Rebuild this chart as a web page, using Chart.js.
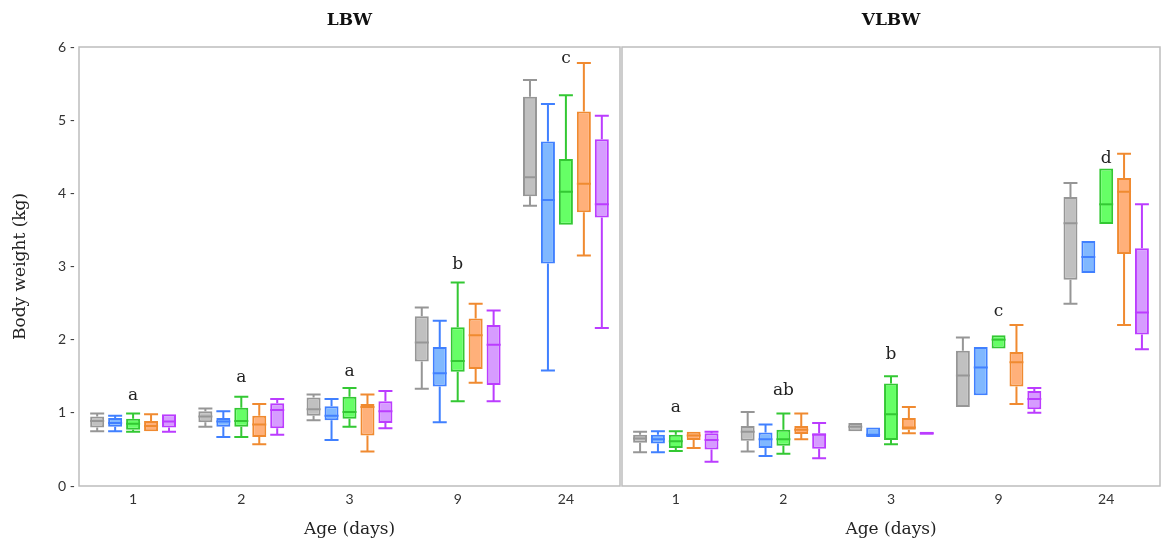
<!DOCTYPE html>
<html>
<head>
<meta charset="utf-8">
<script src="https://cdn.jsdelivr.net/npm/chart.js@4/dist/chart.umd.min.js"></script>
<style>
  html, body { margin: 0; padding: 0; background: #fff; }
  #wrap { position: relative; width: 1162px; height: 544px; }
  .panel { position: absolute; top: 0; height: 544px; }
</style>
</head>
<body>
<div id="wrap">
  <div class="panel" style="left:0;width:621px"><canvas id="lbwChart"></canvas></div>
  <div class="panel" style="left:621px;width:541px"><canvas id="vlbwChart"></canvas></div>
</div>
<script>
// Age categories (days)
const ages = ["1", "2", "3", "9", "24"];
const groupNames = ["Group 1", "Group 2", "Group 3", "Group 4", "Group 5"];

// Each entry: [lower whisker, Q1, median, Q3, upper whisker] per age
const lbwGrey   = [[0.75, 0.80, 0.89, 0.95, 0.99], [0.81, 0.87, 0.95, 1.02, 1.06], [0.90, 0.96, 1.05, 1.21, 1.25], [1.33, 1.70, 1.96, 2.32, 2.44], [3.83, 3.96, 4.22, 5.32, 5.55]];
const lbwBlue   = [[0.75, 0.81, 0.86, 0.93, 0.96], [0.67, 0.81, 0.88, 0.93, 1.02], [0.63, 0.90, 0.96, 1.09, 1.19], [0.87, 1.36, 1.54, 1.90, 2.26], [1.58, 3.04, 3.91, 4.71, 5.22]];
const lbwGreen  = [[0.74, 0.77, 0.85, 0.92, 0.99], [0.67, 0.81, 0.89, 1.07, 1.22], [0.81, 0.92, 1.01, 1.22, 1.34], [1.16, 1.56, 1.71, 2.17, 2.78], [3.57, 3.57, 4.02, 4.47, 5.34]];
const lbwOrange = [[0.75, 0.75, 0.82, 0.89, 0.98], [0.57, 0.67, 0.84, 0.96, 1.12], [0.47, 0.69, 1.08, 1.12, 1.25], [1.41, 1.60, 2.06, 2.29, 2.49], [3.15, 3.74, 4.13, 5.12, 5.78]];
const lbwPurple = [[0.74, 0.80, 0.88, 0.98, 0.98], [0.70, 0.79, 1.04, 1.13, 1.19], [0.79, 0.86, 1.02, 1.16, 1.30], [1.16, 1.38, 1.93, 2.20, 2.40], [2.16, 3.67, 3.85, 4.74, 5.06]];

const vlbwGrey   = [[0.46, 0.59, 0.65, 0.70, 0.74], [0.47, 0.62, 0.74, 0.82, 1.01], [0.75, 0.75, 0.81, 0.86, 0.86], [1.08, 1.08, 1.51, 1.85, 2.03], [2.49, 2.82, 3.59, 3.95, 4.14]];
const vlbwBlue   = [[0.46, 0.58, 0.64, 0.70, 0.75], [0.41, 0.52, 0.64, 0.73, 0.84], [0.67, 0.67, 0.70, 0.80, 0.80], [1.24, 1.24, 1.62, 1.90, 1.90], [2.91, 2.91, 3.13, 3.35, 3.35]];
const vlbwGreen  = [[0.48, 0.52, 0.61, 0.70, 0.75], [0.44, 0.55, 0.64, 0.77, 0.99], [0.57, 0.63, 0.98, 1.40, 1.50], [1.88, 1.88, 2.00, 2.06, 2.06], [3.58, 3.58, 3.85, 4.34, 4.34]];
const vlbwOrange = [[0.52, 0.63, 0.69, 0.74, 0.74], [0.64, 0.71, 0.77, 0.82, 0.99], [0.72, 0.77, 0.80, 0.93, 1.08], [1.12, 1.36, 1.69, 1.83, 2.20], [2.20, 3.17, 4.02, 4.21, 4.54]];
const vlbwPurple = [[0.33, 0.50, 0.63, 0.72, 0.74], [0.38, 0.51, 0.70, 0.72, 0.86], [0.70, 0.70, 0.72, 0.74, 0.74], [1.00, 1.05, 1.19, 1.30, 1.34], [1.87, 2.07, 2.37, 3.25, 3.85]];

// Significance letters and the height (kg) where they sit
const lbwLetters = ["a", "a", "a", "b", "c"];
const lbwLetterY = [1.24, 1.48, 1.57, 3.02, 5.84];
const vlbwLetters = ["a", "ab", "b", "c", "d"];
const vlbwLetterY = [1.07, 1.31, 1.79, 2.39, 4.47];

// Colours (fill / line)
const fills = ["#c0c0c0", "#80b8ff", "#66ff66", "#ffb07a", "#d69cff"];
const lines = ["#969696", "#4080ff", "#33c833", "#f08a30", "#bb3cff"];

const SERIF = "'DejaVu Serif', 'Liberation Serif', serif";
const SANS = "Lato, 'Liberation Sans', sans-serif";

// Whiskers, medians, frame and letters
const boxPlugin = {
  id: "boxExtras",
  afterDatasetsDraw(chart) {
    const ctx = chart.ctx;
    const y = chart.scales.y;
    const stats = chart.options.plugins.boxExtras.stats;
    ctx.save();
    chart.data.datasets.forEach((ds, i) => {
      const meta = chart.getDatasetMeta(i);
      meta.data.forEach((el, j) => {
        const s = stats[i][j];
        const half = el.width / 2;
        const yMin = y.getPixelForValue(s[0]);
        const yQ1 = y.getPixelForValue(s[1]);
        const yMed = y.getPixelForValue(s[2]);
        const yQ3 = y.getPixelForValue(s[3]);
        const yMax = y.getPixelForValue(s[4]);
        ctx.strokeStyle = lines[i];
        ctx.lineWidth = 2;
        ctx.beginPath();
        if (s[4] > s[3]) {
          ctx.moveTo(el.x, yQ3); ctx.lineTo(el.x, yMax);
          ctx.moveTo(el.x - half, yMax); ctx.lineTo(el.x + half, yMax);
        }
        if (s[0] < s[1]) {
          ctx.moveTo(el.x, yQ1); ctx.lineTo(el.x, yMin);
          ctx.moveTo(el.x - half, yMin); ctx.lineTo(el.x + half, yMin);
        }
        ctx.moveTo(el.x - half, yMed); ctx.lineTo(el.x + half, yMed);
        ctx.stroke();
      });
    });

    // frame round the plot area
    const a = chart.chartArea;
    ctx.strokeStyle = "#bdbdbd";
    ctx.lineWidth = 1.5;
    ctx.strokeRect(a.left, a.top, a.right - a.left, a.bottom - a.top);

    // letters
    const x = chart.scales.x;
    const opts = chart.options.plugins.boxExtras;
    ctx.fillStyle = "#222";
    ctx.font = "17px " + SERIF;
    ctx.textAlign = "center";
    ctx.textBaseline = "middle";
    opts.letters.forEach((t, j) => {
      ctx.fillText(t, x.getPixelForValue(j), y.getPixelForValue(opts.letterY[j]));
    });
    ctx.restore();
  },
};

function createChart(canvasId, title, groups, letters, letterY, showY) {
  const ctx = document.getElementById(canvasId).getContext("2d");
  return new Chart(ctx, {
    type: "bar",
    data: {
      labels: ages,
      datasets: groups.map((g, i) => ({
        label: groupNames[i],
        data: g.map((s) => [s[1], s[3]]),
        backgroundColor: fills[i],
        borderColor: lines[i],
        borderWidth: 2,
        borderSkipped: false,
        categoryPercentage: 0.83,
        barPercentage: 0.78,
      })),
    },
    options: {
      responsive: true,
      maintainAspectRatio: false,
      animation: false,
      layout: {
        padding: showY ? { left: 0, right: 1, top: 0, bottom: 0 } : { left: 1, right: 2, top: 0, bottom: 0 },
      },
      scales: {
        x: {
          grid: { display: false, drawTicks: false },
          border: { display: false },
          ticks: { color: "#333", font: { family: SANS, size: 14 }, padding: 5 },
          title: {
            display: true,
            text: "Age (days)",
            color: "#222",
            font: { family: SERIF, size: 17 },
            padding: { top: 0, bottom: 4 },
          },
          afterFit(scale) { scale.height = 58; },
        },
        y: {
          display: showY,
          min: 0,
          max: 6,
          grid: { display: false, drawTicks: false },
          border: { display: false },
          ticks: {
            stepSize: 1,
            color: "#333",
            padding: 4,
            font: { family: SANS, size: 14 },
            callback: (v) => v + " -",
          },
          title: {
            display: true,
            text: "Body weight (kg)",
            color: "#222",
            font: { family: SERIF, size: 17 },
            padding: { top: 10, bottom: 0 },
          },
          afterFit(scale) { scale.width = showY ? 79 : 0; },
        },
      },
      plugins: {
        legend: { display: false },
        title: {
          display: true,
          text: title,
          fullSize: false,
          color: "#111",
          font: { family: SERIF, size: 17, weight: "bold" },
          padding: { top: 10, bottom: 16.6 },
        },
        boxExtras: { stats: groups, letters: letters, letterY: letterY },
      },
    },
    plugins: [boxPlugin],
  });
}

createChart("lbwChart", "LBW", [lbwGrey, lbwBlue, lbwGreen, lbwOrange, lbwPurple], lbwLetters, lbwLetterY, true);
createChart("vlbwChart", "VLBW", [vlbwGrey, vlbwBlue, vlbwGreen, vlbwOrange, vlbwPurple], vlbwLetters, vlbwLetterY, false);
</script>
</body>
</html>
